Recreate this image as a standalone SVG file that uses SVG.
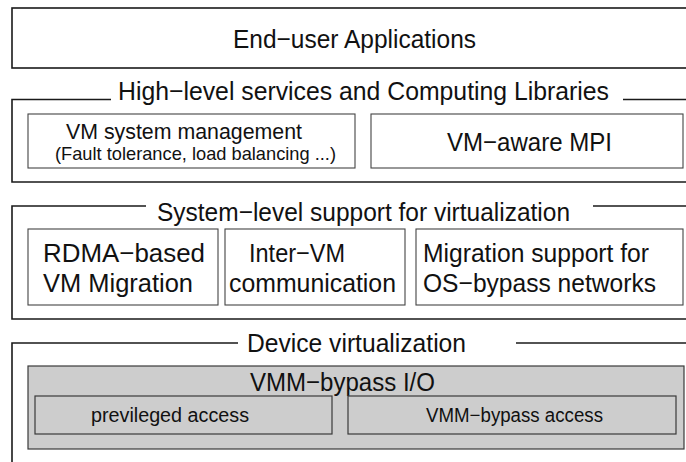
<svg xmlns="http://www.w3.org/2000/svg" width="686" height="462" viewBox="0 0 686 462">
  <style>
    text { font-family: "Liberation Sans", Arial, sans-serif; fill: #111; }
    .big { font-size: 26px; }
    .mid { font-size: 22px; }
    .small { font-size: 18.5px; }
    .inner { font-size: 20px; }
    .c { text-anchor: middle; }
    .frame { fill: none; stroke: #1a1a1a; stroke-width: 1.6; }
    .box { fill: #fff; stroke: #444; stroke-width: 1.1; }
    .gray { fill: #cdcdcd; stroke: #3a3a3a; stroke-width: 1.2; }
  </style>
  <rect width="686" height="462" fill="#fff"/>

  <!-- top layer -->
  <g id="end-user-apps">
    <rect class="frame" x="12" y="8" width="700" height="60"/>
    <text class="big c" x="354.5" y="47.5" textLength="243" lengthAdjust="spacingAndGlyphs">End−user Applications</text>
  </g>

  <!-- high-level services layer -->
  <g id="high-level-services">
    <polyline class="frame" points="111,99.5 12,99.5 12,182 700,182"/>
    <line class="frame" x1="623" y1="99.5" x2="700" y2="99.5"/>
    <text class="big c" x="363.5" y="100" textLength="491" lengthAdjust="spacingAndGlyphs">High−level services and Computing Libraries</text>
  </g>
  <g id="vm-system-management">
    <rect class="box" x="28" y="114" width="327" height="54"/>
    <text class="mid c" x="184" y="138.5" textLength="236" lengthAdjust="spacingAndGlyphs">VM system management</text>
    <text class="small c" x="195.5" y="160" textLength="281" lengthAdjust="spacingAndGlyphs">(Fault tolerance, load balancing ...)</text>
  </g>
  <g id="vm-aware-mpi">
    <rect class="box" x="371" y="114" width="312" height="54"/>
    <text class="big c" x="529.5" y="150.5" textLength="165" lengthAdjust="spacingAndGlyphs">VM−aware MPI</text>
  </g>

  <!-- system-level support layer -->
  <g id="system-level-support">
    <polyline class="frame" points="146,206 12,206 12,319 700,319"/>
    <line class="frame" x1="593" y1="206" x2="700" y2="206"/>
    <text class="big c" x="363.5" y="221" textLength="413" lengthAdjust="spacingAndGlyphs">System−level support for virtualization</text>
  </g>
  <g id="rdma-migration">
    <rect class="box" x="28" y="229" width="190" height="76"/>
    <text class="big" x="43" y="262" textLength="162" lengthAdjust="spacingAndGlyphs">RDMA−based</text>
    <text class="big" x="43" y="292" textLength="150" lengthAdjust="spacingAndGlyphs">VM Migration</text>
  </g>
  <g id="inter-vm-communication">
    <rect class="box" x="225" y="229" width="180" height="76"/>
    <text class="big c" x="297" y="262" textLength="96" lengthAdjust="spacingAndGlyphs">Inter−VM</text>
    <text class="big c" x="312.5" y="292" textLength="167" lengthAdjust="spacingAndGlyphs">communication</text>
  </g>
  <g id="os-bypass-migration">
    <rect class="box" x="416" y="229" width="267" height="76"/>
    <text class="big" x="423" y="262" textLength="226" lengthAdjust="spacingAndGlyphs">Migration support for</text>
    <text class="big" x="423" y="292" textLength="233" lengthAdjust="spacingAndGlyphs">OS−bypass networks</text>
  </g>

  <!-- device virtualization layer -->
  <g id="device-virtualization">
    <polyline class="frame" points="238,343 12,343 12,470"/>
    <line class="frame" x1="516" y1="343" x2="700" y2="343"/>
    <text class="big c" x="356.5" y="352" textLength="219" lengthAdjust="spacingAndGlyphs">Device virtualization</text>
  </g>
  <g id="vmm-bypass-io">
    <rect class="gray" x="28" y="366" width="656" height="83"/>
    <text class="big c" x="342.5" y="391" textLength="185" lengthAdjust="spacingAndGlyphs">VMM−bypass I/O</text>
  </g>
  <g id="privileged-access">
    <rect class="gray" x="35" y="396" width="297" height="38"/>
    <text class="inner c" x="170" y="422" textLength="158" lengthAdjust="spacingAndGlyphs">previleged access</text>
  </g>
  <g id="vmm-bypass-access">
    <rect class="gray" x="348" y="396" width="328" height="38"/>
    <text class="inner c" x="514.5" y="422" textLength="177" lengthAdjust="spacingAndGlyphs">VMM−bypass access</text>
  </g>
</svg>
